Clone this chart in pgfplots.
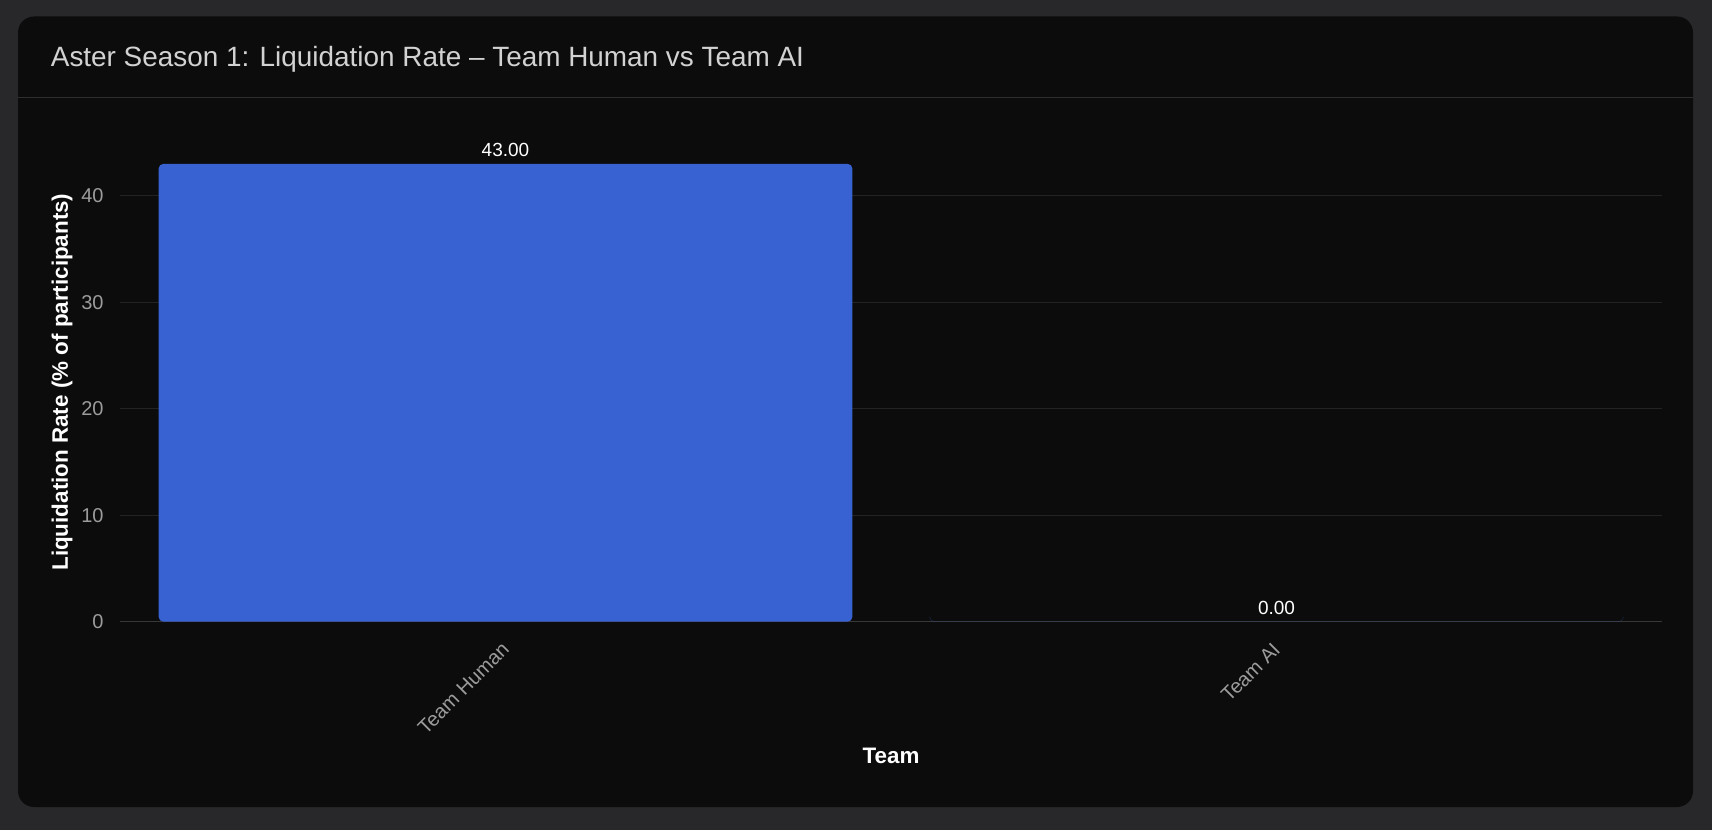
\documentclass[border=0pt]{standalone}
\usepackage{fontspec}
\setmainfont{Liberation Sans}
\usepackage{pgfplots}
\pgfplotsset{compat=1.18}

\definecolor{pagebg}{HTML}{28282B}
\definecolor{cardbg}{HTML}{0C0C0C}
\definecolor{rulecol}{HTML}{2E2E2E}
\definecolor{gridcol}{HTML}{232323}
\definecolor{zerocol}{HTML}{383838}
\definecolor{titlecol}{HTML}{D2D2D2}
\definecolor{tickcol}{HTML}{9C9C9C}
\definecolor{barblue}{RGB}{56,98,209}

\begin{document}
\begin{tikzpicture}[x=0.5pt,y=0.5pt]
	% page and card
	\fill[pagebg] (0,0) rectangle (1712,830);
	\fill[cardbg, rounded corners=8pt] (18,23) rectangle (1693,813.5);
	\draw[rulecol, line width=0.6pt] (18,732.5) -- (1693,732.5);
	\node[anchor=base west, inner sep=0pt, text=titlecol, font=\fontsize{13.95}{16}\selectfont]
		at (50.5,763.3) {Aster Season 1: Liquidation Rate – Team Human vs Team AI};

	\begin{axis}[
	at={(60pt,104.15pt)},
	anchor=south west,
	scale only axis,
	width=771pt,
	height=239.6pt,
	xmin=-0.5, xmax=1.5,
	ymin=0, ymax=45,
	ybar,
	bar width=0.9,
	xtick={0,1},
	xticklabels={Team Human, Team AI},
	ytick={0,10,20,30,40},
	major tick length=0pt,
	axis x line*=bottom,
	axis y line*=left,
	x axis line style={-, draw=zerocol, line width=0.6pt},
	y axis line style={draw=none},
	ymajorgrids,
	grid style={gridcol, line width=0.6pt},
	/pgf/number format/assume math mode=true,
	tick label style={text=tickcol, font=\fontsize{10}{12}\selectfont},
	yticklabel style={anchor=east, inner sep=0pt, xshift=-8pt},
	xticklabel style={rotate=45, anchor=north east, inner sep=0pt, xshift=-8.5pt, yshift=-5pt},
	xlabel={\textbf{Team}},
	ylabel={\textbf{Liquidation Rate (\% of participants)}},
	label style={text=white, font=\fontsize{11.2}{13}\selectfont},
	xlabel style={at={(axis description cs:0.5,0)}, anchor=center, yshift=-67.2pt},
	ylabel style={at={(axis description cs:0,0.5)}, anchor=center, yshift=29pt},
	point meta=y,
	nodes near coords={\pgfmathprintnumber[fixed,precision=2,zerofill]{\pgfplotspointmeta}},
	every node near coord/.append style={anchor=south, inner sep=0pt, yshift=3.3pt,
		text=white, font=\fontsize{9.5}{11}\selectfont},
	]

	\addplot[fill=barblue, draw=none, rounded corners=2.5pt]
	coordinates {
		(0, 43.00)
		(1, 0.00)
	};

	\end{axis}
\end{tikzpicture}
\end{document}
